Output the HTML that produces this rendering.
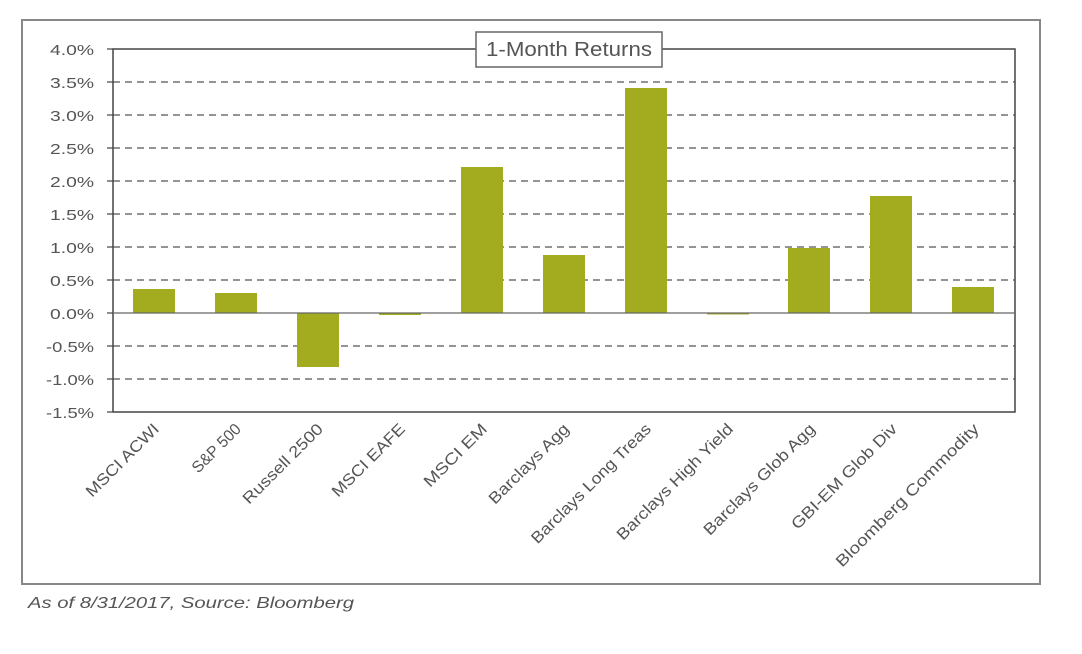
<!DOCTYPE html>
<html><head><style>
body{margin:0;background:#fff;}
svg{display:block;}
text{font-family:"Liberation Sans",sans-serif;fill:#555;}
</style></head><body>
<svg width="1082" height="654" viewBox="0 0 1082 654">
<rect x="22" y="20" width="1018" height="564" fill="#fff" stroke="#888" stroke-width="2"/>
<g stroke="#555" stroke-width="1.3" stroke-dasharray="7,5">
<line x1="113" x2="1015" y1="82" y2="82"/>
<line x1="113" x2="1015" y1="115" y2="115"/>
<line x1="113" x2="1015" y1="148" y2="148"/>
<line x1="113" x2="1015" y1="181" y2="181"/>
<line x1="113" x2="1015" y1="214" y2="214"/>
<line x1="113" x2="1015" y1="247" y2="247"/>
<line x1="113" x2="1015" y1="280" y2="280"/>
<line x1="113" x2="1015" y1="346" y2="346"/>
<line x1="113" x2="1015" y1="379" y2="379"/>
</g>
<g fill="#a3ab1f">
<rect x="133" y="289" width="42" height="24"/>
<rect x="215" y="293" width="42" height="20"/>
<rect x="297" y="313" width="42" height="54"/>
<rect x="379" y="313" width="42" height="2"/>
<rect x="461" y="167" width="42" height="146"/>
<rect x="543" y="255" width="42" height="58"/>
<rect x="625" y="88" width="42" height="225"/>
<rect x="707" y="313" width="42" height="1.5"/>
<rect x="788" y="248" width="42" height="65"/>
<rect x="870" y="196" width="42" height="117"/>
<rect x="952" y="287" width="42" height="26"/>
</g>
<rect x="113" y="49" width="902" height="363" fill="none" stroke="#444" stroke-width="1.5"/>
<line x1="113" x2="1015" y1="313" y2="313" stroke="#666" stroke-width="1.2"/>
<g stroke="#444" stroke-width="1.2">
<line x1="107" x2="113" y1="49" y2="49"/><line x1="107" x2="113" y1="82" y2="82"/><line x1="107" x2="113" y1="115" y2="115"/><line x1="107" x2="113" y1="148" y2="148"/><line x1="107" x2="113" y1="181" y2="181"/><line x1="107" x2="113" y1="214" y2="214"/><line x1="107" x2="113" y1="247" y2="247"/><line x1="107" x2="113" y1="280" y2="280"/><line x1="107" x2="113" y1="313" y2="313"/><line x1="107" x2="113" y1="346" y2="346"/><line x1="107" x2="113" y1="379" y2="379"/><line x1="107" x2="113" y1="412" y2="412"/>
</g>
<g font-size="15" text-anchor="end" lengthAdjust="spacingAndGlyphs">
<text x="94" y="55" textLength="44" lengthAdjust="spacingAndGlyphs">4.0%</text><text x="94" y="88" textLength="44" lengthAdjust="spacingAndGlyphs">3.5%</text><text x="94" y="121" textLength="44" lengthAdjust="spacingAndGlyphs">3.0%</text><text x="94" y="154" textLength="44" lengthAdjust="spacingAndGlyphs">2.5%</text><text x="94" y="187" textLength="44" lengthAdjust="spacingAndGlyphs">2.0%</text><text x="94" y="220" textLength="44" lengthAdjust="spacingAndGlyphs">1.5%</text><text x="94" y="253" textLength="44" lengthAdjust="spacingAndGlyphs">1.0%</text><text x="94" y="286" textLength="44" lengthAdjust="spacingAndGlyphs">0.5%</text><text x="94" y="319" textLength="44" lengthAdjust="spacingAndGlyphs">0.0%</text><text x="94" y="352" textLength="48" lengthAdjust="spacingAndGlyphs">-0.5%</text><text x="94" y="385" textLength="48" lengthAdjust="spacingAndGlyphs">-1.0%</text><text x="94" y="418" textLength="48" lengthAdjust="spacingAndGlyphs">-1.5%</text>
</g>
<rect x="476" y="32" width="186" height="35" fill="#fff" stroke="#666" stroke-width="1.5"/>
<text x="486" y="56" font-size="20" textLength="166" lengthAdjust="spacingAndGlyphs" fill="#444">1-Month Returns</text>
<g font-size="16" text-anchor="end">
<text transform="translate(160,430) rotate(-45)" textLength="96" lengthAdjust="spacingAndGlyphs">MSCI ACWI</text>
<text transform="translate(242,430) rotate(-45)" textLength="62" lengthAdjust="spacingAndGlyphs">S&amp;P 500</text>
<text transform="translate(324,430) rotate(-45)" textLength="106" lengthAdjust="spacingAndGlyphs">Russell 2500</text>
<text transform="translate(406,430) rotate(-45)" textLength="96" lengthAdjust="spacingAndGlyphs">MSCI EAFE</text>
<text transform="translate(488,430) rotate(-45)" textLength="82" lengthAdjust="spacingAndGlyphs">MSCI EM</text>
<text transform="translate(570,430) rotate(-45)" textLength="106" lengthAdjust="spacingAndGlyphs">Barclays Agg</text>
<text transform="translate(652,430) rotate(-45)" textLength="162" lengthAdjust="spacingAndGlyphs">Barclays Long Treas</text>
<text transform="translate(734,430) rotate(-45)" textLength="157" lengthAdjust="spacingAndGlyphs">Barclays High Yield</text>
<text transform="translate(816,430) rotate(-45)" textLength="150" lengthAdjust="spacingAndGlyphs">Barclays Glob Agg</text>
<text transform="translate(898,430) rotate(-45)" textLength="142" lengthAdjust="spacingAndGlyphs">GBI-EM Glob Div</text>
<text transform="translate(980,430) rotate(-45)" textLength="195" lengthAdjust="spacingAndGlyphs">Bloomberg Commodity</text>
</g>
<text x="28" y="608" font-size="16" font-style="italic" fill="#444" textLength="326" lengthAdjust="spacingAndGlyphs">As of 8/31/2017, Source: Bloomberg</text>
</svg>
</body></html>
